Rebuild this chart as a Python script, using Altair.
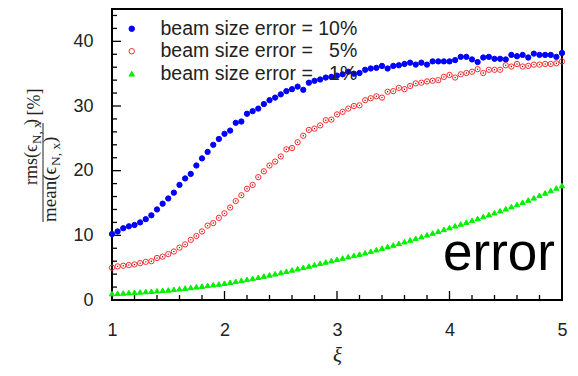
import altair as alt
import pandas as pd

# ---------------- data ----------------
xi = [round(1 + 0.05 * i, 2) for i in range(81)]

S10 = "beam size error = 10%"
S5 = "beam size error = \u20075%"
S1 = "beam size error = \u20071%"
series_names = [S10, S5, S1]

blue_10 = [10.2, 10.6, 11.1, 11.4, 11.6, 12.0, 12.5, 13.1, 14.0, 14.9,
           15.7, 16.6, 17.8, 18.8, 19.5, 20.8, 21.9, 22.9, 24.0, 24.9,
           25.7, 26.2, 27.4, 27.6, 28.8, 29.2, 29.6, 30.3, 30.9, 31.3,
           31.8, 32.3, 32.6, 33.0, 32.5, 33.6, 33.9, 34.1, 34.4, 34.5,
           34.7, 34.9, 35.3, 35.0, 35.1, 35.6, 35.8, 35.9, 36.2, 35.8,
           36.2, 36.3, 36.5, 36.7, 36.4, 36.7, 36.4, 36.9, 36.9, 36.9,
           36.9, 37.1, 37.6, 37.6, 37.2, 36.8, 37.5, 37.6, 37.3, 37.3,
           37.2, 37.9, 37.7, 37.9, 37.5, 38.1, 37.9, 37.9, 37.9, 37.6,
           38.2]

red_5 = [5.0, 5.2, 5.3, 5.4, 5.5, 5.7, 5.9, 6.0, 6.5, 6.7,
         7.1, 7.5, 8.1, 8.6, 9.3, 9.9, 10.6, 11.5, 11.9, 12.7,
         13.4, 14.3, 15.3, 16.2, 17.2, 17.8, 19.0, 19.9, 20.8, 21.4,
         22.2, 23.3, 23.5, 24.4, 25.4, 26.3, 26.5, 27.0, 27.8, 27.9,
         28.7, 29.1, 29.6, 30.0, 30.1, 30.9, 31.2, 31.5, 31.3, 32.2,
         32.3, 32.8, 32.6, 33.1, 33.5, 33.6, 33.8, 33.9, 34.0, 34.5,
         34.8, 34.4, 34.9, 35.1, 35.3, 35.7, 35.1, 35.6, 35.6, 35.6,
         36.3, 36.1, 36.5, 36.1, 36.2, 36.4, 36.4, 36.5, 36.5, 36.6,
         36.9]

green_1 = [1.00, 1.04, 1.09, 1.14, 1.19, 1.25, 1.31, 1.36, 1.43, 1.49,
           1.55, 1.64, 1.74, 1.84, 1.94, 2.05, 2.15, 2.26, 2.37, 2.48,
           2.60, 2.74, 2.89, 3.04, 3.19, 3.35, 3.52, 3.70, 3.88, 4.06,
           4.25, 4.45, 4.65, 4.85, 5.05, 5.25, 5.46, 5.67, 5.88, 6.09,
           6.30, 6.50, 6.70, 6.90, 7.10, 7.30, 7.54, 7.78, 8.02, 8.26,
           8.50, 8.76, 9.02, 9.28, 9.54, 9.80, 10.08, 10.36, 10.64, 10.92,
           11.20, 11.48, 11.76, 12.04, 12.32, 12.60, 12.90, 13.20, 13.50, 13.80,
           14.10, 14.44, 14.78, 15.12, 15.46, 15.80, 16.18, 16.56, 16.94, 17.32,
           17.70]

x_major = [1, 2, 3, 4, 5]
x_minor = [1.2, 1.4, 1.6, 1.8, 2.2, 2.4, 2.6, 2.8, 3.2, 3.4, 3.6, 3.8,
           4.2, 4.4, 4.6, 4.8]
y_major = [0, 10, 20, 30, 40]
y_minor = [2, 4, 6, 8, 12, 14, 16, 18, 22, 24, 26, 28, 32, 34, 36, 38, 42, 44]

# ---------------- layout ----------------
W, H = 450, 291
SANS = "Liberation Sans"
SERIF = "Liberation Serif"
TXT = "#222222"

df = pd.DataFrame({
    "xi": xi * 3,
    "val": blue_10 + red_5 + green_1,
    "series": [S10] * 81 + [S5] * 81 + [S1] * 81,
})
df_red = pd.DataFrame({"xi": xi, "val": red_5})

xscale = alt.Scale(domain=[1, 5], nice=False, zero=False)
yscale = alt.Scale(domain=[0, 45], nice=False, zero=False)

xaxis = alt.Axis(values=x_major, ticks=False, domain=False, grid=False,
                 labelFont=SANS, labelFontSize=18, labelColor=TXT,
                 labelPadding=21, labelFlush=False,
                 title="ξ", titleFont=SERIF, titleFontStyle="italic",
                 titleFontWeight="normal", titleFontSize=21, titleColor=TXT,
                 titlePadding=5)
yaxis = alt.Axis(values=y_major, ticks=False, domain=False, grid=False,
                 labelFont=SANS, labelFontSize=18, labelColor=TXT,
                 labelPadding=19, labelFlush=False, title=None)

legend = alt.Legend(title=None, orient="none", legendX=10, legendY=10,
                    labelFont=SANS, labelFontSize=19.5, labelColor=TXT,
                    symbolSize=30, symbolStrokeWidth=1, rowPadding=1.5,
                    labelOffset=19, padding=0, labelLimit=400)

points = alt.Chart(df).mark_point(strokeWidth=1, opacity=1, size=28).encode(
    x=alt.X("xi:Q", scale=xscale, axis=xaxis),
    y=alt.Y("val:Q", scale=yscale, axis=yaxis),
    stroke=alt.Stroke("series:N", legend=legend,
                      scale=alt.Scale(domain=series_names,
                                      range=["#0000ff", "#ff2a2a", "#00f000"])),
    fill=alt.Fill("series:N", legend=legend,
                  scale=alt.Scale(domain=series_names,
                                  range=["#0000ff", "transparent", "#00f000"])),
    shape=alt.Shape("series:N", legend=legend,
                    scale=alt.Scale(domain=series_names,
                                    range=["circle", "circle", "triangle-up"])),
)

centers = alt.Chart(df_red).mark_circle(size=2, color="#7a0000", opacity=1).encode(
    x=alt.X("xi:Q", scale=xscale, axis=xaxis),
    y=alt.Y("val:Q", scale=yscale, axis=yaxis),
)


def xticks(vals, length):
    return alt.Chart(pd.DataFrame({"t": vals})).mark_rule(
        color="black", strokeWidth=1.3).encode(
        x=alt.X("t:Q", scale=xscale, axis=xaxis),
        y=alt.value(H), y2=alt.value(H - length))


def yticks(vals, length):
    return alt.Chart(pd.DataFrame({"t": vals})).mark_rule(
        color="black", strokeWidth=1.3).encode(
        y=alt.Y("t:Q", scale=yscale, axis=yaxis),
        x=alt.value(0), x2=alt.value(length))


def rot_text(txt, x, y, size, align="left"):
    return alt.Chart(pd.DataFrame({"t": [txt]})).mark_text(
        angle=270, align=align, baseline="alphabetic", font=SERIF,
        fontSize=size, color=TXT).encode(
        text="t:N", x=alt.value(x), y=alt.value(y))


# y-axis title as a fraction: rms(eps_N,x) / mean(eps_N,x) [%]
num = [rot_text("rms(ϵ", -75, 176, 18),
       rot_text("N, x", -71.5, 135, 13),
       rot_text(")", -75, 116, 18)]
den = [rot_text("mean(ϵ", -56, 213, 19),
       rot_text("N, x", -52.5, 157, 13.5),
       rot_text(")", -56, 134, 19)]
unit = rot_text("[%]", -72, 93, 18, align="center")
frac_bar = alt.Chart(pd.DataFrame({"t": [0]})).mark_rule(
    color=TXT, strokeWidth=1).encode(
    x=alt.value(-69), y=alt.value(114), y2=alt.value(213))

err_text = alt.Chart(pd.DataFrame({"t": ["error"]})).mark_text(
    align="left", baseline="alphabetic", font=SANS, fontSize=53,
    color="black").encode(text="t:N", x=alt.value(331), y=alt.value(260.5))

chart = alt.layer(
    xticks(x_major, 9), xticks(x_minor, 5),
    yticks(y_major, 9), yticks(y_minor, 5),
    points, centers,
    *num, *den, unit, frac_bar, err_text,
).properties(
    width=W, height=H,
    padding={"left": 104, "top": 1, "right": 8, "bottom": 67},
    autosize=alt.AutoSizeParams(type="none"),
).configure_view(stroke="black", strokeWidth=2)

chart.save("out.html", embed_options={"renderer": "svg", "actions": False})
